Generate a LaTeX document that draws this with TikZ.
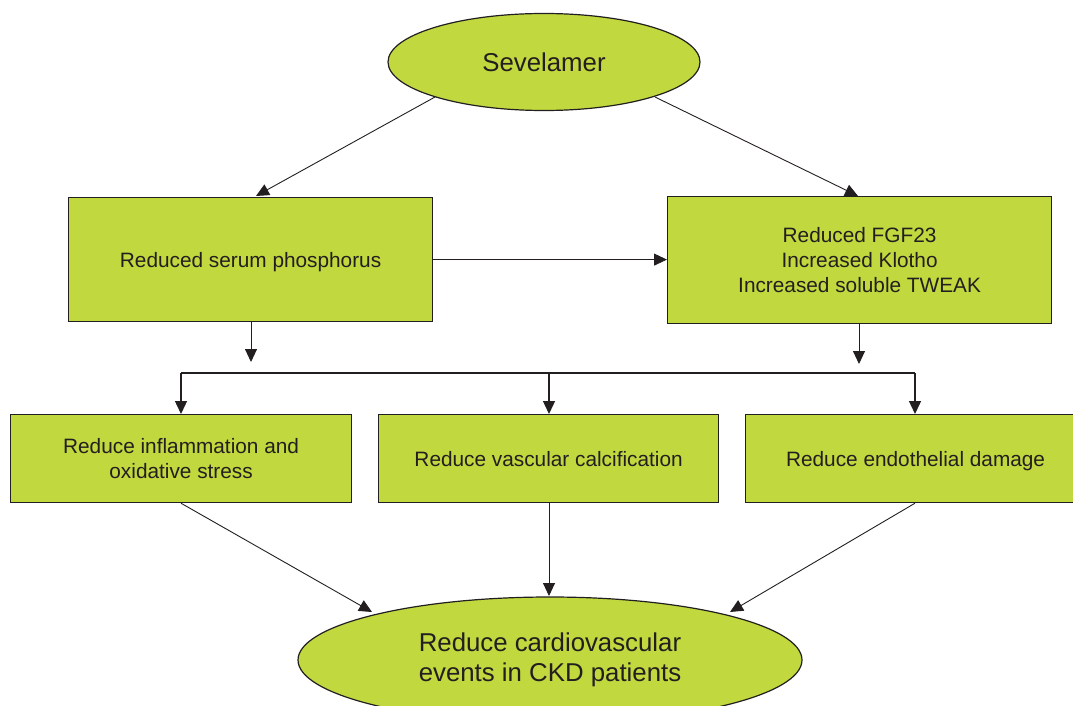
\documentclass[tikz,border=0pt]{standalone}
\usepackage{fontspec}
\setmainfont{Liberation Sans}
\usetikzlibrary{arrows.meta,shapes.geometric}
\definecolor{leaf}{RGB}{193,216,62}
\definecolor{ink}{RGB}{35,31,32}
\begin{document}
\begin{tikzpicture}[x=1pt,y=-1pt,
  box/.style={draw=ink,line width=1.2pt,fill=leaf,inner sep=0pt,anchor=north west,font=\fontsize{20.8}{24.8}\selectfont,align=center,text=ink},
  oval/.style={ellipse,draw=ink,line width=1.2pt,fill=leaf,inner sep=0pt,font=\fontsize{25.8}{30}\selectfont,align=center,text=ink},
  arr/.style={draw=ink,line width=0.9pt,-{Triangle[width=12pt,length=13pt]}},
  ln/.style={draw=ink,line width=1.4pt}]
\useasboundingbox (0,0) rectangle (1073,706);
\node[oval,minimum width=312pt,minimum height=97pt] (sev) at (544,62) {Sevelamer};
\node[box,minimum width=364pt,minimum height=124pt,text depth=0pt] (b1) at (68,197) {Reduced serum phosphorus};
\node[box,minimum width=384pt,minimum height=127pt] (b2) at (667,196) {Reduced FGF23\\Increased Klotho\\Increased soluble TWEAK};
\node[box,minimum width=341pt,minimum height=88pt] (b3) at (10,414) {Reduce inflammation and\\oxidative stress};
\node[box,minimum width=340pt,minimum height=88pt] (b4) at (378,414) {Reduce vascular calcification};
\node[box,minimum width=340pt,minimum height=88pt,text depth=0pt] (b5) at (745,414) {Reduce endothelial damage};
\node[oval,minimum width=504pt,minimum height=126pt] (cv) at (550,660) {Reduce cardiovascular\\events in CKD patients};
\coordinate (s1) at (435,97);
\coordinate (s2) at (655,97);
\coordinate (t1) at (256,196);
\coordinate (t2) at (858,196);
\draw[arr] (s1) -- (t1);
\draw[arr] (s2) -- (t2);
\draw[arr] (b1.east) -- (b2.west |- b1.east);
\coordinate (d1) at (251,362);
\coordinate (d2) at (859,364);
\draw[arr] (b1.south -| d1) -- (d1);
\draw[arr] (b2.south -| d2) -- (d2);
\coordinate (hl) at (181,373);
\coordinate (hm) at (549,373);
\coordinate (hr) at (915,373);
\draw[ln] (hl) -- (hr);
\draw[arr,line width=1.4pt] (hl) -- (b3.north -| hl);
\draw[arr,line width=1.4pt] (hm) -- (b4.north -| hm);
\draw[arr,line width=1.4pt] (hr) -- (b5.north -| hr);
\coordinate (e1) at (372,612);
\coordinate (e2) at (549,596);
\coordinate (e3) at (730,612);
\draw[arr] (b3.south -| hl) -- (e1);
\draw[arr] (b4.south -| hm) -- (e2);
\draw[arr] (b5.south -| hr) -- (e3);
\end{tikzpicture}
\end{document}
